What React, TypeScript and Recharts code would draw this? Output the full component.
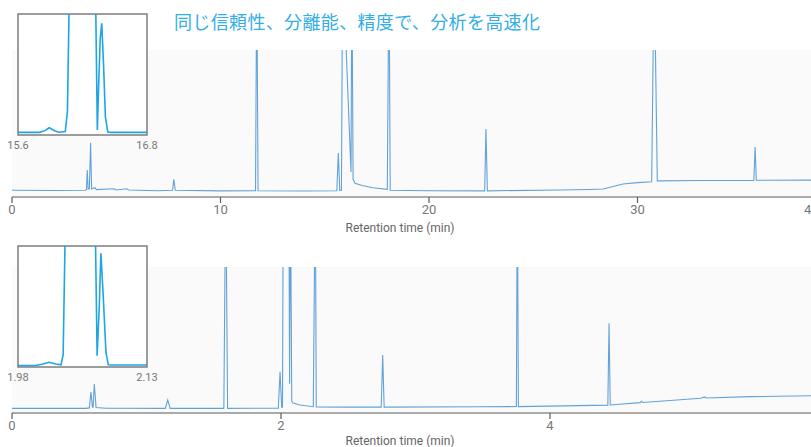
import React from 'react';
import { LineChart, Line, XAxis, YAxis, CartesianGrid, ReferenceArea } from 'recharts';

const OFF = 160;
const titleText = '同じ信頼性、分離能、精度で、分析を高速化';
const axisTitle = 'Retention time (min)';

// Top chromatogram (0–40 min)
const topTicks = [0, 10, 20, 30, 40];
const topTime = [
  0, 2.0, 3.5, 3.57, 3.61, 3.65, 3.71, 3.77, 3.82, 3.98, 4.05, 4.9, 5.0, 5.5, 5.6,
  7.0, 7.7, 7.76, 7.83, 10.0, 11.68, 11.74, 11.8, 14.0, 15.58, 15.65, 15.72, 15.8,
  15.86, 16.26, 16.3, 16.36, 16.45, 16.8, 17.3, 18.0, 18.08, 18.14, 20.0, 22.67,
  22.73, 22.8, 26.3, 27.7, 28.35, 29.3, 30.0, 30.68, 30.8, 30.95, 33.0, 35.58,
  35.64, 35.7, 38.3, 40,
];
const topSignal = [
  4.6, 4.4, 4.6, 5.0, 18.4, 5.5, 5.5, 36.9, 5.5, 6.3, 5.0, 5.6, 4.8, 5.6, 4.8,
  4.3, 4.6, 12.0, 4.6, 4.2, 4.3, OFF, 4.3, 4.1, 4.3, 29.9, 4.5, 4.6,
  OFF, 17, OFF, 12, 9.3, 7.8, 6.3, 5.2, OFF, 4.6, 4.3, 4.2,
  46.3, 4.2, 4.8, 5.1, 5.4, 8.8, 9.8, 10.4, OFF, 11.0, 11.2, 11.3,
  34, 11.4, 11.5, 11.5,
];

// Bottom chromatogram (0–6 min)
const bottomTicks = [0, 2, 4];
const bottomTime = [
  0, 0.55, 0.575, 0.587, 0.598, 0.603, 0.612, 0.625, 0.7, 1.14, 1.158, 1.176,
  1.575, 1.589, 1.603, 1.98, 1.993, 2.005, 2.011, 2.017, 2.058, 2.064, 2.07, 2.08,
  2.09, 2.14, 2.24, 2.255, 2.262, 2.5, 2.745, 2.756, 2.767, 3.48, 3.75, 3.757,
  3.765, 4.43, 4.439, 4.448, 4.67, 4.68, 4.69, 5.12, 5.15, 5.16, 5.49, 5.94, 6.0,
];
const bottomSignal = [
  3.2, 3.2, 3.5, 14.4, 4.0, 4.0, 19.9, 3.8, 3.3, 3.2, 8.9, 3.2,
  3.2, OFF, 3.2, 3.3, 28.3, 4.0, 4.0, OFF, OFF, 20, OFF, 8,
  6.8, 5.5, 4.3, OFF, 4.1, 4.0, 4.0, 39.7, 4.0, 4.3, 4.4, OFF,
  4.4, 5.4, 61.4, 5.5, 7.1, 8.0, 7.2, 10.1, 11.0, 10.3, 11.2, 11.8, 11.8,
];

// Top inset (15.6–16.8 min)
const topInsetTicks = [15.6, 16.8];
const topInsetTime = [
  15.6, 15.8, 15.85, 15.89, 15.94, 15.98, 16.04, 16.06, 16.085, 16.315, 16.338,
  16.35, 16.365, 16.379, 16.395, 16.413, 16.435, 16.46, 16.8,
];
const topInsetSignal = [
  2.2, 2.2, 3.6, 6.0, 3.6, 2.3, 2.8, 20, OFF, OFF, 4.1,
  40, 80, 92.3, 60, 15, 2.5, 2.2, 2.2,
];

// Bottom inset (1.98–2.13 min)
const bottomInsetTicks = [1.98, 2.13];
const bottomInsetTime = [
  1.98, 2.0, 2.008, 2.016, 2.024, 2.03, 2.0325, 2.036, 2.069, 2.072, 2.0745,
  2.0764, 2.079, 2.0823, 2.085, 2.088, 2.13,
];
const bottomInsetSignal = [
  1.2, 1.2, 2.2, 3.9, 2.5, 1.8, 10, OFF, OFF, 9.3, 50,
  94, 60, 12, 1.8, 1.6, 1.6,
];

const rows = (ts: number[], vs: number[]) => ts.map((t, i) => ({ t, v: vs[i] }));

const topData = rows(topTime, topSignal);
const bottomData = rows(bottomTime, bottomSignal);
const topInsetData = rows(topInsetTime, topInsetSignal);
const bottomInsetData = rows(bottomInsetTime, bottomInsetSignal);

const MAIN_LINE = '#62a2d8';
const INSET_LINE = '#1ea5e6';
const FONT = 'Roboto, "Noto Sans", sans-serif';
const VIEW_W = 811;

// tick that keeps a label whose centre falls past the page edge peeking in at the edge
const EdgeTick = (p: any) => {
  const { x, y, payload } = p;
  const beyond = x > VIEW_W;
  return (
    <text x={beyond ? VIEW_W - 7 : x} y={y} dy="0.71em" textAnchor={beyond ? 'start' : 'middle'}
      fill="#777" fontSize={13} fontFamily={FONT}>{payload.value}</text>
  );
};

function MainChart(props: {
  data: { t: number; v: number }[];
  domain: [number, number];
  ticks: number[];
  top: number;
  width: number;
  height: number;
  marginTop: number;
  marginRight: number;
  axisHeight: number;
}) {
  const { data, domain, ticks, top, width, height, marginTop, marginRight, axisHeight } = props;
  return (
    <div style={{ position: 'absolute', left: 0, top }}>
      <LineChart width={width} height={height} data={data}
        margin={{ top: marginTop, right: marginRight, bottom: 0, left: 12 }}>
        <CartesianGrid horizontal={false} vertical={false} fill="#fafafa" stroke="none" />
        <XAxis dataKey="t" type="number" domain={domain} ticks={ticks} interval={0}
          allowDataOverflow height={axisHeight} stroke="#5a5a5a" strokeWidth={1.2}
          tickSize={6} tickMargin={2} tick={EdgeTick} />
        <YAxis hide domain={[0, 100]} allowDataOverflow />
        <Line dataKey="v" type="linear" stroke={MAIN_LINE} strokeWidth={1.1}
          dot={false} isAnimationActive={false} />
      </LineChart>
    </div>
  );
}

function InsetChart(props: {
  data: { t: number; v: number }[];
  ticks: number[];
  top: number;
}) {
  const { data, ticks, top } = props;
  const d: [number, number] = [ticks[0], ticks[1]];
  return (
    <div style={{ position: 'absolute', left: 0, top }}>
      <LineChart width={170} height={160} data={data}
        margin={{ top: 14, right: 23, bottom: 0, left: 18 }}>
        <ReferenceArea x1={d[0]} x2={d[1]} y1={0} y2={100} fill="#ffffff" fillOpacity={1}
          stroke="#7d7d7d" strokeWidth={1.5} ifOverflow="visible" />
        <XAxis dataKey="t" type="number" domain={d} ticks={ticks} interval={0}
          allowDataOverflow axisLine={false} tickLine={false} tickSize={4} tickMargin={2}
          height={25} tick={{ fill: '#777', fontSize: 11, fontFamily: FONT }} />
        <YAxis hide domain={[0, 100]} allowDataOverflow />
        <Line dataKey="v" type="linear" stroke={INSET_LINE} strokeWidth={1.6}
          dot={false} isAnimationActive={false} />
      </LineChart>
    </div>
  );
}

export default function App() {
  const axisTitleStyle: React.CSSProperties = {
    position: 'absolute', left: 300, width: 200, textAlign: 'center',
    fontFamily: FONT, fontSize: 12, lineHeight: '12px', color: '#666', whiteSpace: 'nowrap',
  };
  return (
    <div style={{ position: 'fixed', left: 0, top: 0, width: VIEW_W, height: 447, overflow: 'hidden', background: '#fff' }}>
      <MainChart data={topData} domain={[0, 40]} ticks={topTicks} top={0}
        width={900} height={240} marginTop={50} marginRight={54} axisHeight={43} />
      <MainChart data={bottomData} domain={[0, 6]} ticks={bottomTicks} top={220}
        width={900} height={227} marginTop={47} marginRight={81} axisHeight={34} />
      <InsetChart data={topInsetData} ticks={topInsetTicks} top={0} />
      <InsetChart data={bottomInsetData} ticks={bottomInsetTicks} top={232} />
      <div style={{
        position: 'absolute', left: 174, top: 12, fontFamily: '"Noto Sans CJK JP", sans-serif',
        fontSize: 18, lineHeight: '18px', color: '#33aee6', whiteSpace: 'nowrap', letterSpacing: 0.35,
      }}>{titleText}</div>
      <div style={{ ...axisTitleStyle, top: 222 }}>{axisTitle}</div>
      <div style={{ ...axisTitleStyle, top: 435 }}>{axisTitle}</div>
    </div>
  );
}
